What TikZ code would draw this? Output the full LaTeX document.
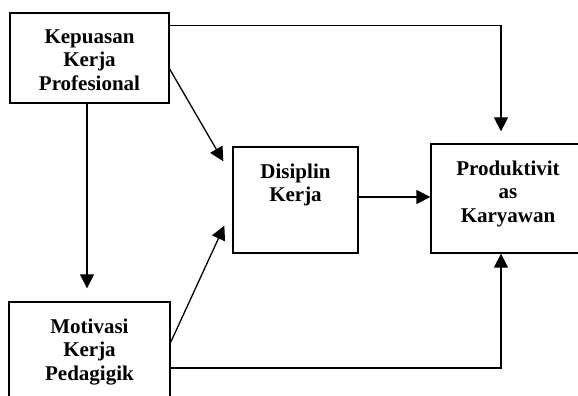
\documentclass[tikz,border=0pt]{standalone}
\usepackage{fontspec}
\setmainfont{Liberation Serif}
\usepackage{tikz}
\usetikzlibrary{arrows.meta,positioning}

\begin{document}
\begin{tikzpicture}[x=1pt, y=1pt, inner sep=0pt]
    \tikzstyle{kotak}=[rectangle, draw=black, line width=1.3pt]
    \tikzstyle{teks}=[align=center, font=\fontsize{21}{23.5}\selectfont\bfseries]
    \tikzstyle{panah}=[->, >={Triangle[length=14pt,width=14pt]}, line width=1.3pt]

    \clip (0,0) rectangle (578,396);

    % kotak
    \node[kotak, minimum width=159pt, minimum height=90pt] (kp) at (89.5,338) {};
    \node[kotak, minimum width=125pt, minimum height=106pt] (dk) at (295.5,196) {};
    \node[kotak, minimum width=154pt, minimum height=109pt] (pk) at (508,197.5) {};
    \node[kotak, minimum width=161pt, minimum height=96pt] (mk) at (89.5,46) {};

    % teks
    \node[teks, below=17pt of kp.north] (kp-t) {Kepuasan\\Kerja\\Profesional};
    \node[teks, below=17pt of dk.north] (dk-t) {Disiplin\\Kerja};
    \node[teks, below=17pt of pk.north] (pk-t) {Produktivit\\as\\Karyawan};
    \node[teks, below=17pt of mk.north] (mk-t) {Motivasi\\Kerja\\Pedagigik};

    % panah
    \draw[panah, shorten >=12pt] ([yshift=-13pt]kp.north east) -| ([xshift=-7pt]pk.north);
    \draw[panah, shorten >=13pt] ([xshift=-2.5pt]kp.south) -- ([xshift=-2.5pt]mk.north);
    \draw[panah] ([yshift=-11pt]kp.east) -- ([xshift=-9pt,yshift=-15pt]dk.north west);
    \draw[panah] ([yshift=-41pt]mk.north east) -- ([xshift=-8pt,yshift=28pt]dk.south west);
    \draw[panah] ([yshift=3pt]dk.east) -- ([yshift=3pt]dk.east -| pk.west);
    \draw[panah] ([yshift=-18pt]mk.east) -| ([xshift=-7pt]pk.south);
\end{tikzpicture}
\end{document}
